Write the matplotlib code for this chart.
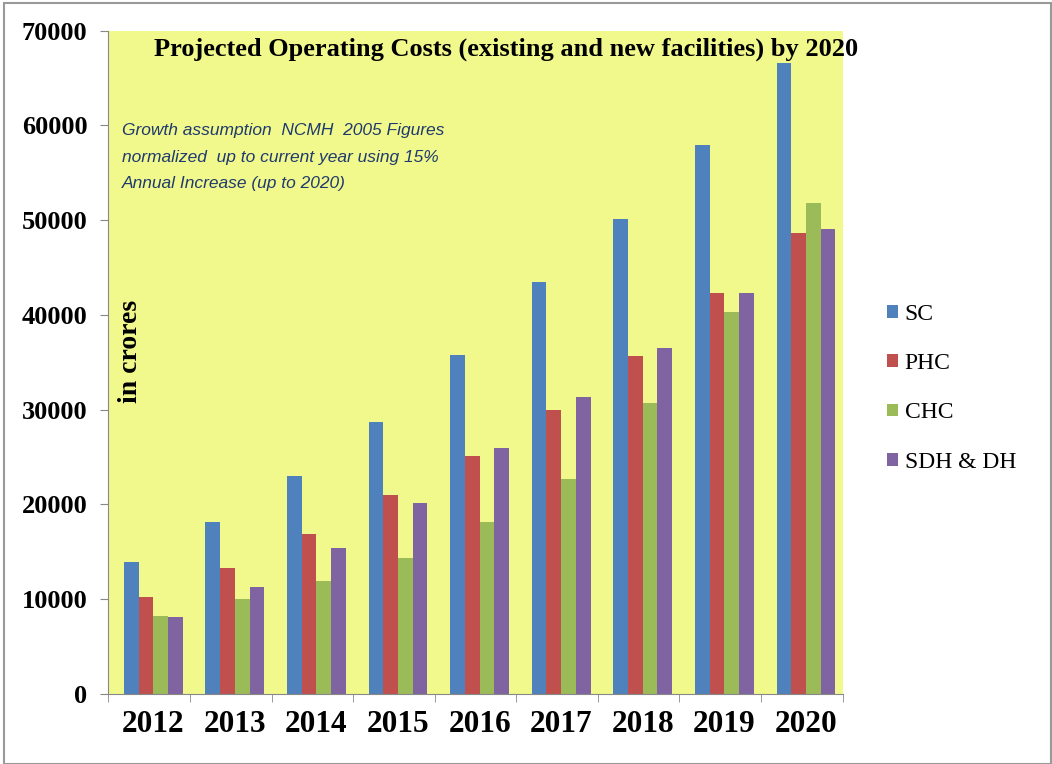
"""Projected operating costs bar chart, 2012-2020, four facility types."""

import matplotlib.pyplot as plt
import numpy as np
from matplotlib.patches import Rectangle

YEARS = ["2012", "2013", "2014", "2015", "2016", "2017", "2018", "2019", "2020"]
SERIES = ["SC", "PHC", "CHC", "SDH & DH"]
SC = [13950, 18100, 23000, 28700, 35800, 43500, 50100, 57900, 66600]
PHC = [10250, 13250, 16850, 21000, 25050, 29900, 35700, 42250, 48600]
CHC = [8250, 9950, 11950, 14300, 18100, 22700, 30700, 40250, 51800]
SDH = [8150, 11300, 15400, 20100, 25900, 31300, 36450, 42250, 49100]
COLORS = ["#4F81BD", "#C0504D", "#9BBB59", "#8064A2"]

SERIF = "Liberation Serif"

fig = plt.figure(figsize=(10.52, 7.64), dpi=100)
ax = fig.add_axes([0.103, 0.092, 0.698, 0.868])
ax.set_facecolor("#F2F98C")

x = np.arange(len(YEARS))
width = 0.18
for i, (name, vals) in enumerate(zip(SERIES, [SC, PHC, CHC, SDH])):
    ax.bar(x + (i - 1.5) * width + 0.05, vals, width, color=COLORS[i], label=name)

ax.set_xlim(-0.5, len(YEARS) - 0.5)
ax.set_ylim(0, 70000)
ax.set_yticks(range(0, 70001, 10000))
ax.set_xticks(x + 0.05)
ax.set_xticklabels(YEARS)
ax.set_xticks(np.arange(-0.5, len(YEARS)), minor=True)
ax.tick_params(axis="x", which="major", length=0, pad=12)
ax.tick_params(axis="x", which="minor", length=6, color="#888888")
ax.tick_params(axis="y", length=6, color="#888888", pad=9)
for lab in ax.get_xticklabels():
    lab.set_fontfamily(SERIF)
    lab.set_fontweight("bold")
    lab.set_fontsize(22.5)
for lab in ax.get_yticklabels():
    lab.set_fontfamily(SERIF)
    lab.set_fontweight("bold")
    lab.set_fontsize(19)

for side in ["top", "right"]:
    ax.spines[side].set_visible(False)
for side in ["left", "bottom"]:
    ax.spines[side].set_color("#888888")

ax.text(0.541, 0.99, "Projected Operating Costs (existing and new facilities) by 2020",
        transform=ax.transAxes, ha="center", va="top",
        family=SERIF, fontweight="bold", fontsize=19)
ax.text(0.019, 0.86, "Growth assumption  NCMH  2005 Figures\nnormalized  up to current year using 15%\nAnnual Increase (up to 2020)",
        transform=ax.transAxes, ha="left", va="top", family="Liberation Sans",
        style="italic", fontsize=12.5, color="#1F3A6E", linespacing=1.95)
ax.text(0.03, 0.516, "in crores", transform=ax.transAxes, rotation=90,
        ha="center", va="center", family=SERIF, fontweight="bold", fontsize=20)

leg = fig.legend(loc="center left", bbox_to_anchor=(0.823, 0.492), frameon=False,
                 prop={"family": SERIF, "size": 17}, handlelength=0.45,
                 handleheight=0.45, handletextpad=0.3, labelspacing=1.2)

fig.patches.append(Rectangle((0.004, 0.0), 0.995, 0.996, transform=fig.transFigure,
                             fill=False, edgecolor="#999999", linewidth=1.5))

fig.savefig("out.png")
